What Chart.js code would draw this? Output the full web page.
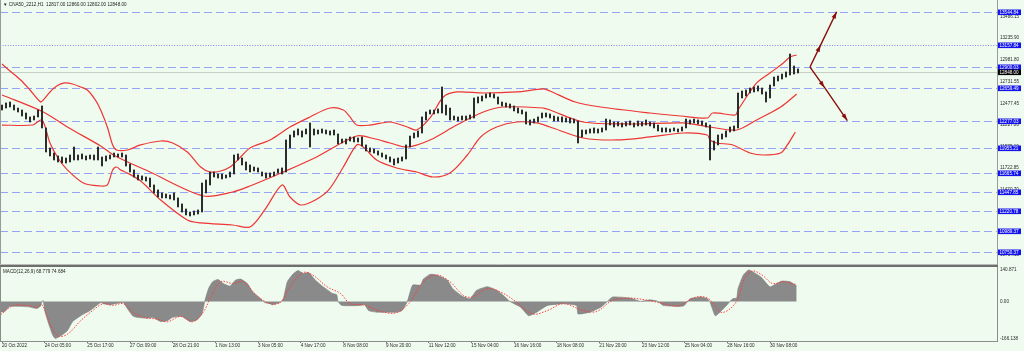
<!DOCTYPE html>
<html>
<head>
<meta charset="utf-8">
<script src="https://cdn.jsdelivr.net/npm/chart.js@4.4.0/dist/chart.umd.min.js"></script>
<style>
  html, body { margin: 0; padding: 0; background: #effbee; overflow: hidden; }
  #wrap { position: relative; width: 1024px; height: 351px; background: #effbee; }
  #main { position: absolute; left: 0; top: 0; }
  #macd { position: absolute; left: 0; top: 265px; }
  .lbl { position: absolute; font: 4.6px "Liberation Sans", Arial, sans-serif; color: #222; white-space: pre; line-height: 1; }
</style>
</head>
<body>
<div id="wrap">
  <canvas id="main" width="1024" height="265"></canvas>
  <canvas id="macd" width="1024" height="86"></canvas>
  <div class="lbl" style="left:3px;top:3px">▼ CNA50_2212,H1  12817.00 12860.00 12802.00 12848.00</div>
  <div class="lbl" style="left:3px;top:270px">MACD(12,26,9) 68.779 74.684</div>
</div>
<script>
const $ = (s) => document.querySelector(s);
const FONT = '"Liberation Sans", Arial, sans-serif';

// x axis is in H1 bars; price is sampled every 3 bars
const STEP = 3;
const X0 = -1.5, X1 = 746.25;

const priceHi = [
  12458, 12482, 12493, 12458, 12423, 12400, 12365, 12319, 12330, 12400,
  12447, 12191, 11958, 11899, 11865, 11853, 11841, 11876, 11969, 11876,
  11888, 11865, 11876, 11876, 11969, 11853, 11865, 11876, 11899, 11888,
  11899, 11876, 11771, 11702, 11643, 11632, 11620, 11608, 11527, 11469,
  11434, 11422, 11410, 11434, 11376, 11306, 11247, 11212, 11224, 11236,
  11550, 11585, 11678, 11678, 11655, 11655, 11643, 11678, 11876, 11888,
  11841, 11795, 11760, 11736, 11725, 11678, 11667, 11667, 11678, 11713,
  11725, 12051, 12109, 12156, 12179, 12156, 12179, 12249, 12179, 12167,
  12179, 12167, 12156, 12167, 12121, 12062, 12062, 12086, 12086, 12074,
  12086, 11993, 11958, 11946, 11923, 11899, 11876, 11853, 11830, 11841,
  11853, 11993, 12097, 12132, 12156, 12319, 12377, 12400, 12400, 12412,
  12668, 12458, 12423, 12330, 12319, 12330, 12330, 12342, 12540, 12552,
  12563, 12586, 12598, 12586, 12552, 12493, 12482, 12470, 12447, 12423,
  12400, 12377, 12284, 12295, 12319, 12365, 12365, 12354, 12330, 12319,
  12319, 12307, 12307, 12295, 12272, 12167, 12167, 12179, 12191, 12179,
  12191, 12295, 12284, 12260, 12260, 12249, 12260, 12272, 12249, 12272,
  12260, 12284, 12260, 12249, 12225, 12191, 12191, 12179, 12191, 12179,
  12202, 12295, 12284, 12295, 12284, 12272, 12249, 12225, 12039, 12109,
  12121, 12156, 12202, 12214, 12598, 12621, 12633, 12656, 12668, 12680,
  12656, 12610, 12691, 12784, 12796, 12819, 12843, 13052, 12912, 12878
];
const priceLo = [
  12400, 12423, 12435, 12400, 12377, 12330, 12295, 12260, 12284, 12319,
  12191, 11911, 11865, 11818, 11795, 11783, 11783, 11795, 11818, 11818,
  11830, 11818, 11830, 11818, 11818, 11748, 11806, 11830, 11853, 11853,
  11853, 11748, 11678, 11620, 11585, 11585, 11573, 11504, 11434, 11387,
  11376, 11376, 11364, 11352, 11271, 11212, 11178, 11166, 11178, 11189,
  11212, 11434, 11527, 11620, 11608, 11597, 11608, 11620, 11655, 11818,
  11760, 11702, 11678, 11690, 11678, 11632, 11608, 11620, 11632, 11667,
  11655, 11678, 11958, 12086, 12109, 12086, 12121, 11969, 12109, 12121,
  12132, 12121, 12109, 12109, 12004, 12016, 12004, 12039, 12028, 12028,
  11981, 11923, 11911, 11899, 11876, 11853, 11830, 11795, 11760, 11783,
  11806, 11830, 11969, 12074, 12086, 12132, 12284, 12354, 12354, 12365,
  12365, 12342, 12284, 12284, 12272, 12284, 12284, 12295, 12307, 12482,
  12505, 12540, 12552, 12540, 12470, 12447, 12435, 12423, 12389, 12365,
  12354, 12237, 12225, 12249, 12260, 12307, 12319, 12307, 12272, 12272,
  12260, 12260, 12249, 12249, 12016, 12086, 12121, 12132, 12132, 12132,
  12144, 12167, 12225, 12202, 12214, 12202, 12214, 12225, 12202, 12214,
  12214, 12225, 12214, 12191, 12156, 12144, 12144, 12144, 12156, 12144,
  12156, 12191, 12237, 12249, 12237, 12225, 12202, 11818, 11934, 11993,
  12062, 12086, 12144, 12156, 12191, 12540, 12563, 12598, 12610, 12621,
  12586, 12493, 12540, 12680, 12738, 12761, 12784, 12808, 12819, 12831
];

// bollinger bands (bar, price)
const upperBar = [0, 6, 14, 21, 29, 31, 36, 41, 47, 53, 59, 64, 70, 74, 79, 83, 86, 94, 104, 119,
  128, 139, 149, 156, 164, 171, 179, 186, 201, 216, 231, 246, 256, 261, 266, 276, 291, 304, 311, 321,
  331, 341, 361, 386, 406, 411, 430, 449, 486, 509, 529, 533, 550, 552, 566, 576, 586, 591, 596];
const upper = [12936, 12854, 12749, 12633, 12493, 12517, 12610, 12680, 12715, 12703, 12668, 12633, 12517, 12400, 12202, 11993, 11934, 11934, 11993, 12039,
  12016, 11911, 11736, 11678, 11690, 11736, 11853, 11958, 12051, 12202, 12319, 12423, 12400, 12319, 12225, 12225, 12260, 12202, 12167, 12307,
  12552, 12610, 12598, 12610, 12645, 12621, 12493, 12435, 12365, 12330, 12307, 12365, 12342, 12400, 12715, 12831, 12947, 13017, 13041];
const midBar = [0, 31, 49, 74, 85, 111, 151, 173, 186, 211, 236, 266, 280, 291, 304, 321, 341, 361, 376, 406,
  411, 436, 473, 511, 531, 551, 566, 584, 596];
const mid = [12575, 12377, 12202, 11981, 11865, 11678, 11399, 11445, 11515, 11678, 11853, 12097, 12062, 12016, 11969, 12051, 12225, 12377, 12435, 12423,
  12400, 12260, 12237, 12249, 12202, 12167, 12284, 12435, 12586];
const lowBar = [0, 23, 30, 36, 42, 49, 61, 74, 79, 83, 86, 89, 94, 104, 119, 139, 149, 173, 186, 197,
  210, 216, 224, 235, 245, 256, 266, 271, 281, 296, 311, 323, 336, 349, 359, 371, 386, 401, 411, 436,
  461, 486, 511, 529, 531, 536, 548, 561, 571, 584, 589, 595];
const low = [12225, 12225, 12284, 12016, 11841, 11702, 11550, 11515, 11527, 11702, 11736, 11702, 11667, 11573, 11352, 11119, 11085, 11061, 11038, 11236,
  11527, 11387, 11294, 11352, 11469, 11736, 11993, 11969, 11818, 11725, 11678, 11620, 11667, 11876, 12086, 12202, 12260, 12249, 12202, 12074,
  12051, 12086, 12132, 12109, 12051, 12016, 11993, 11899, 11876, 11899, 11993, 12144];

const levels = [13544.84, 13157.84, 12900.03, 12659.49, 12277.03, 11955.21, 11665.74, 11447.85, 11220.78, 10989.37, 10750.37];
const dottedLevel = 13157.84;
const bid = 12848.0;
const priceTicks = [13486.15, 13235.90, 12981.80, 12731.55, 12477.45, 12227.20, 11975.10, 11722.85, 11470.70, 11218.50, 10966.40, 10714.15];

const arrowUpBar = [606, 614, 626];
const arrowUp = [12900.03, 13157.84, 13544.84];
const arrowDnBar = [606, 617, 634];
const arrowDn = [12900.03, 12659.49, 12277.03];

// MACD panel
const histBar = [-1, 2, 6, 14, 21, 26, 29, 30, 31, 32, 35, 38, 40, 44, 49, 53, 59, 66, 74, 76,
  81, 85, 91, 94, 98, 101, 109, 113, 119, 124, 128, 135, 141, 146, 150, 152, 155, 158, 162, 166,
  171, 175, 179, 184, 188, 194, 197, 201, 203, 209, 211, 214, 218, 222, 226, 230, 235, 241, 248, 251,
  252, 255, 269, 272, 275, 281, 296, 300, 304, 308, 314, 316, 321, 326, 334, 338, 345, 351, 356, 364,
  371, 376, 381, 389, 395, 401, 409, 421, 431, 432, 441, 449, 454, 458, 471, 479, 486, 492, 496, 511,
  516, 524, 529, 531, 535, 541, 546, 548, 551, 552, 556, 560, 563, 569, 576, 581, 585, 591, 596];
const histVal = [-48, -45, -22, -22, -25, -32, -20, 0, 3, -40, -100, -150, -166, -154, -131, -90, -64, -41, -5, -10,
  -15, -10, -5, -32, -64, -71, -75, -71, -90, -86, -71, -67, -90, -83, -56, 0, 59, 88, 98, 80,
  68, 95, 100, 80, 42, 12, -5, -10, -15, -3, 12, 88, 121, 138, 125, 129, 95, 65, 35, 30,
  0, -18, -18, -15, -41, -48, -48, -41, 0, 73, 73, 100, 121, 118, 95, 57, 24, 12, 50, 66,
  50, 27, 0, -26, -64, -48, -18, -10, -18, -56, -48, -26, 0, 20, 15, 0, 7, 0, -18, -21,
  12, 20, 12, -3, -64, -33, 0, 12, 15, 57, 118, 141, 133, 110, 65, 80, 91, 88, 69];
const sigBar = [-1, 8, 19, 26, 30, 36, 42, 49, 59, 68, 76, 83, 91, 98, 106, 116, 124, 134, 143, 151,
  156, 164, 173, 181, 191, 201, 209, 216, 226, 233, 244, 254, 261, 271, 284, 296, 306, 316, 326, 336,
  346, 353, 364, 374, 386, 398, 409, 421, 436, 446, 458, 471, 484, 496, 506, 511, 521, 530, 539, 546,
  552, 557, 563, 570, 578, 586, 596];
const sigVal = [-59, -20, -18, -26, -15, -100, -154, -147, -86, -41, -10, -18, -10, -48, -71, -79, -91, -67, -91, -48,
  12, 88, 80, 88, 27, -10, -3, 65, 129, 118, 65, 35, -10, -15, -45, -50, -3, 88, 118, 88,
  27, 20, 57, 42, -3, -56, -41, -10, -41, -45, 5, 15, 5, -10, -21, -10, 20, 12, -48, -33,
  12, 103, 136, 118, 80, 88, 75];
const macdTicks = [-166.138, 0, 140.871];
const macdTickText = ["-166.138", "0.00", "140.871"];

const timeTickBar = [0, 32, 64, 96, 128, 160, 192, 224, 256, 288, 320, 352, 384, 416, 448, 480, 512, 544, 576];
const timeLabels = ["20 Oct 2022", "24 Oct 05:00", "25 Oct 17:00", "27 Oct 09:00", "28 Oct 21:00", "1 Nov 13:00",
  "3 Nov 05:00", "4 Nov 17:00", "8 Nov 08:00", "9 Nov 20:00", "11 Nov 12:00", "15 Nov 04:00", "16 Nov 16:00",
  "18 Nov 08:00", "21 Nov 20:00", "23 Nov 12:00", "25 Nov 04:00", "28 Nov 16:00", "30 Nov 08:00"];

const xy = (xs, ys) => xs.map((x, i) => ({ x, y: ys[i] }));
const tickFont = { size: 4.6, family: FONT };
// keep the plot area exactly where the panel borders are
const noPad = (s) => { s.paddingTop = s.paddingBottom = s.paddingLeft = s.paddingRight = 0; };

const band = (xs, ys) => ({
  data: xy(xs, ys), borderColor: "#ee3434", borderWidth: 1.2,
  pointRadius: 0, tension: 0.3, fill: false, order: 2,
});
const arrowDs = (xs, ys) => ({
  data: xy(xs, ys), borderColor: "#8a0d0d", borderWidth: 1.4,
  pointRadius: 0, tension: 0, fill: false, order: 0, arrow: true,
});

const levelLines = {
  id: "levelLines",
  beforeDatasetsDraw(c) {
    const { ctx, chartArea: a, scales: { y } } = c;
    ctx.save();
    ctx.lineWidth = 1;
    levels.forEach((v) => {
      const py = Math.round(y.getPixelForValue(v)) + 0.5;
      ctx.strokeStyle = v === dottedLevel ? "#7d8cf2" : "#95a4f4";
      ctx.setLineDash(v === dottedLevel ? [1, 1.6] : [8, 4]);
      ctx.beginPath();
      ctx.moveTo(a.left, py);
      ctx.lineTo(a.right, py);
      ctx.stroke();
    });
    ctx.setLineDash([]);
    ctx.strokeStyle = "#c6cec6";
    const by = Math.round(y.getPixelForValue(bid)) + 0.5;
    ctx.beginPath();
    ctx.moveTo(a.left, by);
    ctx.lineTo(a.right, by);
    ctx.stroke();
    ctx.restore();
  },
};

const arrowHeads = {
  id: "arrowHeads",
  afterDatasetsDraw(c) {
    const { ctx } = c;
    c.data.datasets.forEach((ds, di) => {
      if (!ds.arrow) return;
      const pts = c.getDatasetMeta(di).data;
      for (let k = 1; k < pts.length; k++) {
        const a = pts[k - 1], b = pts[k];
        const ang = Math.atan2(b.y - a.y, b.x - a.x);
        ctx.save();
        ctx.translate(b.x, b.y);
        ctx.rotate(ang);
        ctx.fillStyle = ds.borderColor;
        ctx.beginPath();
        ctx.moveTo(0, 0);
        ctx.lineTo(-7, -2.2);
        ctx.lineTo(-7, 2.2);
        ctx.closePath();
        ctx.fill();
        ctx.restore();
      }
    });
  },
};

const priceBoxes = {
  id: "priceBoxes",
  afterDraw(c) {
    const { ctx, chartArea: a, scales: { y } } = c;
    ctx.save();
    // frame
    ctx.strokeStyle = "#9a9a9a";
    ctx.lineWidth = 1;
    ctx.beginPath();
    ctx.moveTo(0.5, a.top); ctx.lineTo(0.5, a.bottom);
    ctx.moveTo(a.right + 0.5, a.top); ctx.lineTo(a.right + 0.5, a.bottom);
    ctx.stroke();
    ctx.strokeStyle = "#b8bdb8";
    ctx.beginPath();
    ctx.moveTo(0, a.bottom - 0.5); ctx.lineTo(a.right, a.bottom - 0.5);
    ctx.stroke();

    ctx.font = `4.6px ${FONT}`;
    ctx.textBaseline = "middle";
    const box = (v, bg) => {
      const py = Math.round(y.getPixelForValue(v));
      ctx.fillStyle = bg;
      ctx.fillRect(a.right + 1, py - 2.5, 23, 5.6);
      ctx.fillStyle = "#ffffff";
      ctx.fillText(v.toFixed(2), a.right + 2.5, py + 0.4);
    };
    levels.forEach((v) => box(v, "#1212ee"));
    box(bid, "#000000");
    ctx.restore();
  },
};

const macdFrame = {
  id: "macdFrame",
  afterDraw(c) {
    const { ctx, chartArea: a } = c;
    ctx.save();
    ctx.fillStyle = "#6e6e6e";
    ctx.fillRect(0, a.top - 2, a.right + 1, 2);
    ctx.strokeStyle = "#8c8c8c";
    ctx.lineWidth = 1;
    ctx.beginPath();
    ctx.moveTo(0.5, a.top); ctx.lineTo(0.5, a.bottom);
    ctx.moveTo(a.right + 0.5, a.top); ctx.lineTo(a.right + 0.5, a.bottom + 0.5);
    ctx.moveTo(0, a.bottom + 0.5); ctx.lineTo(a.right + 1, a.bottom + 0.5);
    ctx.stroke();
    ctx.restore();
  },
};

const common = {
  responsive: false,
  animation: false,
  events: [],
  plugins: { legend: { display: false }, tooltip: { enabled: false } },
};

new Chart($("#main"), {
  type: "line",
  data: {
    datasets: [
      {
        type: "bar",
        data: priceHi.map((h, i) => ({ x: i * STEP, y: [priceLo[i], h] })),
        backgroundColor: "#2c2c2c", borderWidth: 0, barThickness: 1.4, order: 1,
      },
      band(upperBar, upper),
      band(midBar, mid),
      band(lowBar, low),
      arrowDs(arrowUpBar, arrowUp),
      arrowDs(arrowDnBar, arrowDn),
    ],
  },
  options: {
    ...common,
    layout: { padding: 0, autoPadding: false },
    scales: {
      x: { type: "linear", min: X0, max: X1, offset: false, display: false },
      y: {
        position: "right", min: 10595, max: 13681,
        afterFit: (s) => { s.width = 27; noPad(s); },
        afterBuildTicks: (s) => { s.ticks = priceTicks.map((v) => ({ value: v })); },
        ticks: { autoSkip: false, padding: 3, color: "#2a2a2a", font: tickFont, callback: (v) => Number(v).toFixed(2) },
        grid: { display: false, drawTicks: false },
        border: { display: false },
      },
    },
  },
  plugins: [levelLines, arrowHeads, priceBoxes],
});

new Chart($("#macd"), {
  type: "line",
  data: {
    datasets: [
      {
        data: xy(sigBar, sigVal), borderColor: "#ff3a3a", borderWidth: 1, borderDash: [1.5, 1.5],
        pointRadius: 0, tension: 0.35, fill: false, order: 0,
      },
      {
        data: xy(histBar, histVal), borderColor: "#7a7a7a", borderWidth: 0.6, backgroundColor: "#8a8a8a",
        pointRadius: 0, tension: 0.15, fill: "origin", order: 1,
      },
    ],
  },
  options: {
    ...common,
    layout: { padding: { top: 2, left: 0, right: 0, bottom: 0 }, autoPadding: false },
    scales: {
      x: {
        type: "linear", min: X0, max: X1, offset: false,
        afterFit: (s) => { s.height = 10; noPad(s); },
        afterBuildTicks: (s) => { s.ticks = timeTickBar.map((v) => ({ value: v })); },
        ticks: {
          autoSkip: false, maxRotation: 0, minRotation: 0, align: "start", padding: 0,
          color: "#2a2a2a", font: tickFont, callback: (v, i) => timeLabels[i],
        },
        grid: { drawOnChartArea: false, drawTicks: true, tickLength: 2, color: "#555555", lineWidth: 0.8 },
        border: { display: false },
      },
      y: {
        position: "right", min: -177, max: 154,
        afterFit: (s) => { s.width = 27; noPad(s); },
        afterBuildTicks: (s) => { s.ticks = macdTicks.map((v) => ({ value: v })); },
        ticks: { autoSkip: false, padding: 3, color: "#2a2a2a", font: tickFont, callback: (v, i) => macdTickText[i] },
        grid: { display: false, drawTicks: false },
        border: { display: false },
      },
    },
  },
  plugins: [macdFrame],
});
</script>
</body>
</html>
